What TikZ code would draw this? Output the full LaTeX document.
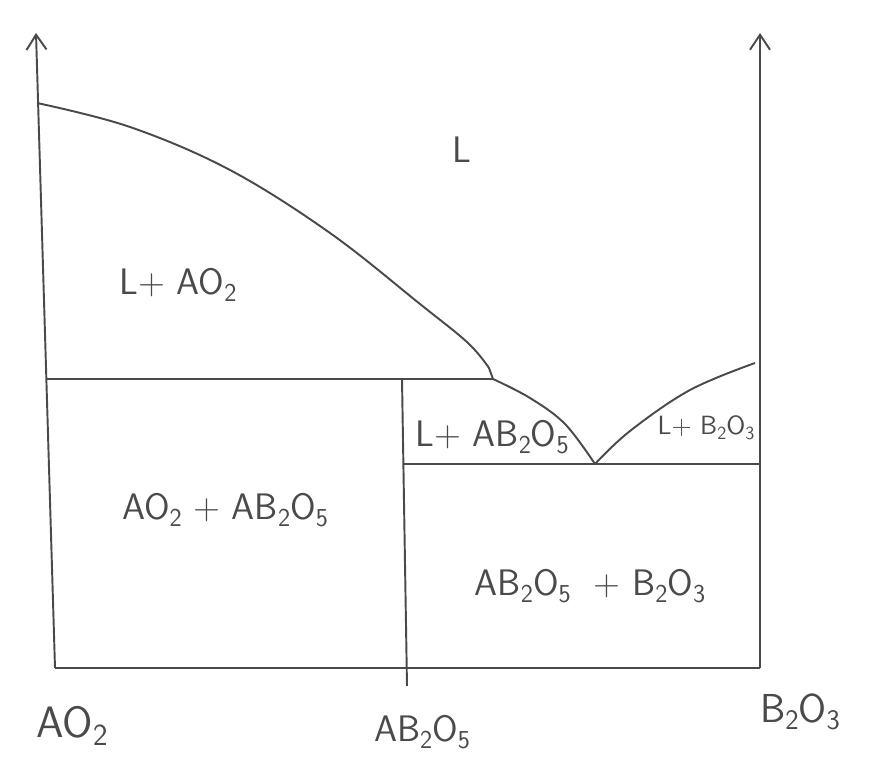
\documentclass[tikz,border=0pt]{standalone}
\usepackage{xcolor}
\usepackage{graphicx}
\usepackage{tikz}
\usetikzlibrary{arrows.meta}
\definecolor{ink}{HTML}{4A4A4A}
\newcommand{\lo}[1]{\raisebox{-0.4ex}{\scalebox{0.7}{#1}}}

\begin{document}
\begin{tikzpicture}[x=0.02cm, y=-0.02cm, font=\sffamily\fontsize{21}{24}\selectfont,
  ln/.style={draw=ink, line width=1.1pt, line join=round},
  ax/.style={ln, -{Straight Barb[length=3mm, width=4mm]}},
  lab/.style={text=ink, inner sep=1pt}]
\useasboundingbox (0,0) rectangle (873,780);
% corners and key points
\coordinate (o) at (55,668);
\coordinate (ytop) at (36,33);
\coordinate (e) at (760,668);
\coordinate (etop) at (760,33);
\coordinate (p) at (493,379);
\coordinate (eu) at (595,464);
\coordinate (c) at (407,668);
% axes
\draw[ax] (o) -- (ytop);
\draw[ax] (e) -- (etop);
\draw[ln] (o) -- (e);
\draw[ln] (402,379) -- (407,686);
% liquidus lines
\draw[ln] plot[smooth, tension=0.6] coordinates {(37,103) (130,127) (230,170) (330,233) (420,304) (468,343) (489,368)} -- (p);
\draw[ln] plot[smooth, tension=0.6] coordinates {(p) (530,398) (565,424) (595,464)};
\draw[ln] plot[smooth, tension=0.6] coordinates {(eu) (630,431) (690,390) (755,363)};
% invariant lines
\draw[ln] (46,379) -- (p);
\draw[ln] (403,464) -- (760,464);
% labels
\node[lab] (l) at (462,150) {L};
\node[lab] (lao) at (178,285) {L+ AO\lo{2}};
\node[lab] (lab5) at (492,437) {L+ AB\lo{2}O\lo{5}};
\node[lab, font=\sffamily\fontsize{15}{18}\selectfont] (lbo) at (706,428) {L+ B\lo{2}O\lo{3}};
\node[lab] (aoab) at (225,510) {AO\lo{2} + AB\lo{2}O\lo{5}};
\node[lab] (abbo) at (590,586) {AB\lo{2}O\lo{5} \ + B\lo{2}O\lo{3}};
\node[lab, font=\sffamily\fontsize{25}{28}\selectfont] (xa) at (72,726) {AO\lo{2}};
\node[lab] (xab) at (422,732) {AB\lo{2}O\lo{5}};
\node[lab, font=\sffamily\fontsize{23}{26}\selectfont] (xb) at (800,712) {B\lo{2}O\lo{3}};
\end{tikzpicture}
\end{document}
